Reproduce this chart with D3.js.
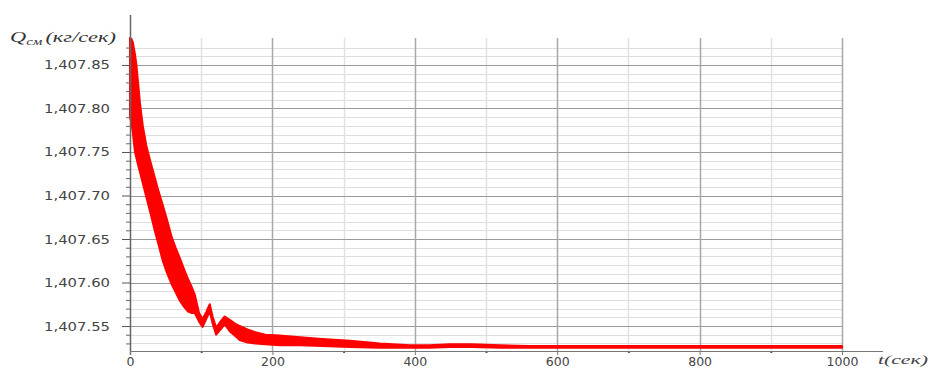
<!DOCTYPE html>
<html><head><meta charset="utf-8">
<script src="https://cdn.jsdelivr.net/npm/d3@7"></script>
<style>body{margin:0;background:#fff}svg{display:block}</style>
</head><body>
<svg id="c" width="931" height="369"></svg>
<script>
// ---- data ----
const time   = [0, 2, 4, 7, 9, 12, 14, 18, 23, 29, 35, 40, 46, 52, 59, 64, 70, 76, 81, 86, 91, 97, 102, 107, 112, 116, 121, 127, 133, 140, 147, 154, 165, 176, 190, 210, 239, 270, 309, 351, 393, 420, 449, 480, 520, 560, 600, 700, 800, 900, 1000];
const qUpper = [1407.881, 1407.880, 1407.876, 1407.862, 1407.850, 1407.824, 1407.806, 1407.780, 1407.757, 1407.738, 1407.720, 1407.705, 1407.689, 1407.672, 1407.651, 1407.640, 1407.628, 1407.615, 1407.605, 1407.596, 1407.586, 1407.565, 1407.558, 1407.566, 1407.575, 1407.561, 1407.548, 1407.555, 1407.561, 1407.557, 1407.553, 1407.550, 1407.546, 1407.543, 1407.540, 1407.539, 1407.537, 1407.535, 1407.533, 1407.530, 1407.528, 1407.528, 1407.529, 1407.529, 1407.528, 1407.527, 1407.527, 1407.527, 1407.527, 1407.527, 1407.527];
const qLower = [1407.790, 1407.783, 1407.772, 1407.750, 1407.743, 1407.733, 1407.727, 1407.714, 1407.698, 1407.679, 1407.659, 1407.644, 1407.625, 1407.611, 1407.597, 1407.589, 1407.579, 1407.572, 1407.567, 1407.565, 1407.565, 1407.555, 1407.549, 1407.558, 1407.567, 1407.553, 1407.540, 1407.546, 1407.552, 1407.544, 1407.539, 1407.534, 1407.531, 1407.530, 1407.529, 1407.528, 1407.528, 1407.527, 1407.526, 1407.525, 1407.525, 1407.525, 1407.526, 1407.526, 1407.525, 1407.525, 1407.525, 1407.525, 1407.525, 1407.525, 1407.525];
const xTickValues = [0, 200, 400, 600, 800, 1000];
const xMinorTickValues = [100, 300, 500, 700, 900];
const yTickValues = [1407.55, 1407.60, 1407.65, 1407.70, 1407.75, 1407.80, 1407.85];
const yDomain = [1407.5213, 1407.881];
const xDomain = [0, 1000];
const yTitle = ["Q", "см", "(кг/сек)"];
const xTitle = "t(сек)";

const series = time.map((t, i) => ({t, hi: qUpper[i], lo: qLower[i]}));
const yMinorTickValues = d3.range(153, 188).map(k => 1406 + k / 100).filter(v => !yTickValues.some(m => Math.abs(m - v) < 1e-6));

const svg = d3.select('#c');
const x = d3.scaleLinear().domain(xDomain).range([130, 842]);
const y = d3.scaleLinear().domain(yDomain).range([351, 38]);
const pTop = 38, pBottom = 351, pLeft = 130, pRight = 842;

const grid = svg.append('g');
grid.selectAll('.hmin').data(yMinorTickValues).join('line')
  .attr('x1', pLeft).attr('x2', pRight)
  .attr('y1', d => Math.round(y(d)) + 0.5).attr('y2', d => Math.round(y(d)) + 0.5)
  .attr('stroke', '#dedede').attr('stroke-width', 1);
grid.selectAll('.vmin').data(xMinorTickValues).join('line')
  .attr('x1', d => Math.round(x(d)) + 0.5).attr('x2', d => Math.round(x(d)) + 0.5)
  .attr('y1', pTop).attr('y2', pBottom)
  .attr('stroke', '#e2e2e2').attr('stroke-width', 1.5);
grid.selectAll('.hmaj').data(yTickValues).join('line')
  .attr('x1', pLeft).attr('x2', pRight)
  .attr('y1', d => Math.round(y(d)) + 0.5).attr('y2', d => Math.round(y(d)) + 0.5)
  .attr('stroke', '#9a9a9a').attr('stroke-width', 1);
grid.selectAll('.vmaj').data(xTickValues.filter(d => d > 0)).join('line')
  .attr('x1', d => Math.round(x(d)) + 0.5).attr('x2', d => Math.round(x(d)) + 0.5)
  .attr('y1', pTop).attr('y2', pBottom)
  .attr('stroke', '#a8a8a8').attr('stroke-width', 1.5);

const area = d3.area().x(d => x(d.t)).y0(d => y(d.lo)).y1(d => y(d.hi)).curve(d3.curveLinear);
svg.append('path').datum(series).attr('d', area)
  .attr('fill', '#ff0000').attr('stroke', '#ff0000').attr('stroke-width', 2).attr('stroke-linejoin', 'round');

const yAxis = svg.append('g').attr('transform', `translate(${pLeft},0)`)
  .call(d3.axisLeft(y).tickValues(yTickValues).tickFormat(d3.format(',.2f')).tickSize(8).tickPadding(12));
yAxis.select('.domain').remove();
yAxis.selectAll('line').attr('stroke', '#555');
yAxis.selectAll('text').attr('font-family', 'DejaVu Sans, Verdana, sans-serif').attr('font-size', 12.5)
  .attr('fill', '#444').attr('textLength', 66).attr('lengthAdjust', 'spacingAndGlyphs');
const yMinor = svg.append('g').attr('transform', `translate(${pLeft},0)`)
  .call(d3.axisLeft(y).tickValues(yMinorTickValues).tickFormat('').tickSize(4));
yMinor.select('.domain').remove();
yMinor.selectAll('line').attr('stroke', '#666');
svg.append('line').attr('x1', pLeft + 0.5).attr('x2', pLeft + 0.5).attr('y1', 15).attr('y2', pBottom + 4)
  .attr('stroke', '#666').attr('stroke-width', 1.5);

const xAxis = svg.append('g').attr('transform', `translate(0,${pBottom})`)
  .call(d3.axisBottom(x).tickValues(xTickValues).tickFormat(d3.format('d')).tickSize(4).tickPadding(2));
xAxis.select('.domain').remove();
xAxis.selectAll('line').attr('stroke', '#777');
xAxis.selectAll('text').attr('font-family', 'DejaVu Sans, Verdana, sans-serif').attr('font-size', 12.5).attr('fill', '#444');
const xMinor = svg.append('g').attr('transform', `translate(0,${pBottom})`)
  .call(d3.axisBottom(x).tickValues(xMinorTickValues).tickFormat('').tickSize(2));
xMinor.select('.domain').remove();
xMinor.selectAll('line').attr('stroke', '#555').attr('stroke-width', 2);
svg.append('line').attr('x1', pLeft).attr('x2', 883).attr('y1', pBottom + 0.5).attr('y2', pBottom + 0.5)
  .attr('stroke', '#777').attr('stroke-width', 1.2);

const yt = svg.append('text').attr('x', 10).attr('y', 42)
  .attr('font-family', 'Liberation Serif, Times New Roman, serif').attr('font-style', 'italic').attr('font-size', 15).attr('fill', '#333')
  .attr('textLength', 106).attr('lengthAdjust', 'spacingAndGlyphs');
yt.append('tspan').text(yTitle[0]);
yt.append('tspan').attr('font-size', 10).attr('dy', 3).text(yTitle[1]);
yt.append('tspan').attr('dy', -3).attr('dx', 2).text(yTitle[2]);
svg.append('text').attr('x', 878).attr('y', 364)
  .attr('font-family', 'Liberation Serif, Times New Roman, serif').attr('font-style', 'italic').attr('font-size', 13)
  .attr('fill', '#444').attr('textLength', 50).attr('lengthAdjust', 'spacingAndGlyphs').text(xTitle);
</script>
</body></html>
